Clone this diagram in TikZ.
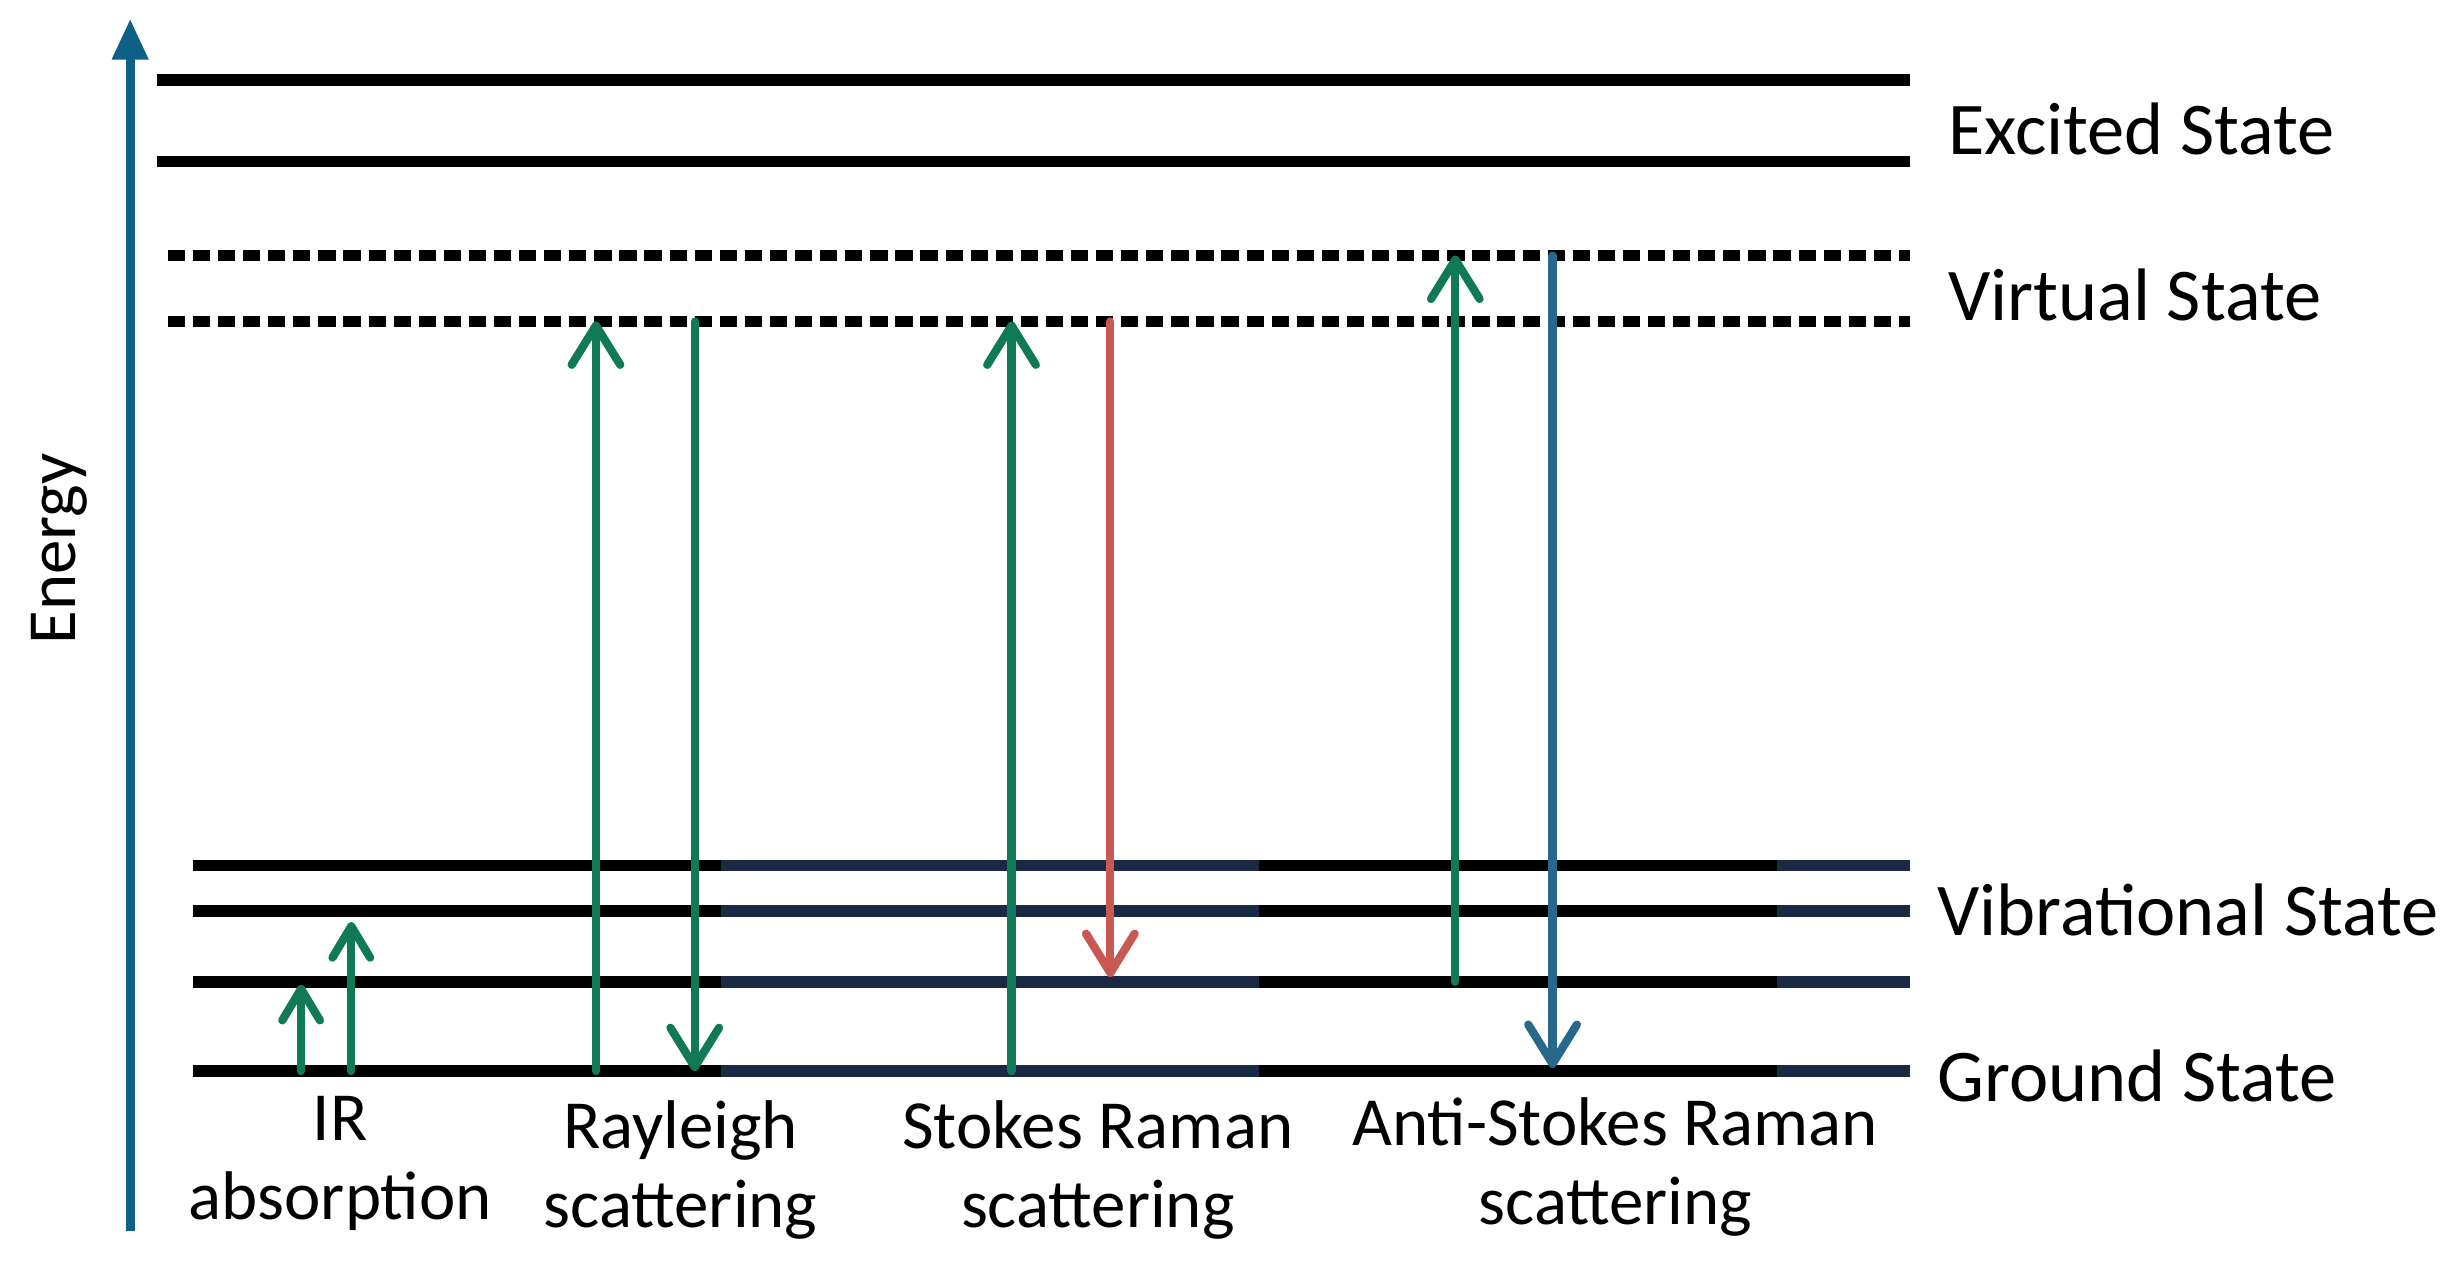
\documentclass[tikz,border=0pt]{standalone}
\usepackage{fontspec}
\setmainfont{Carlito}
\usetikzlibrary{arrows.meta, positioning}

\definecolor{jumpgreen}{RGB}{16,122,86}
\definecolor{stokesred}{RGB}{200,88,82}
\definecolor{antiblue}{RGB}{40,104,138}
\definecolor{axisblue}{RGB}{14,96,134}
\definecolor{levelnavy}{RGB}{27,42,68}

\begin{document}
\begin{tikzpicture}[x=0.02cm, y=-0.02cm,
    level/.style={line width=4.2pt, black},
    virtual/.style={level, dash pattern=on 0.22cm off 0.1cm},
    navyseg/.style={line width=4.2pt, levelnavy},
    jump/.style={line width=3pt, line cap=round,
        -{Straight Barb[length=0.5cm, width=0.62cm, line cap=round, line join=round]}},
    smalljump/.style={jump,
        -{Straight Barb[length=0.4cm, width=0.48cm, line cap=round, line join=round]}},
    statelbl/.style={anchor=west, inner sep=0pt, font=\fontsize{27}{32}\selectfont},
    proclbl/.style={align=center, inner sep=0pt, font=\fontsize{25}{28.5}\selectfont}]

    \useasboundingbox (0,0) rectangle (1568,813);

    % energy axis
    \coordinate (axb) at (83,785);
    \coordinate (axt) at (83,12);
    \draw[axisblue, line width=3.2pt, -{Triangle[length=0.52cm, width=0.44cm]}] (axb) -- (axt);
    \node[rotate=90, inner sep=0pt, font=\fontsize{25}{30}\selectfont] (energy) at (38,350) {Energy};

    % levels
    \foreach \name/\y/\xl in {ex2/51/100, ex1/103/100} {
        \coordinate (\name-l) at (\xl,\y);
        \coordinate (\name-r) at (1218,\y);
        \draw[level] (\name-l) -- (\name-r);
    }
    \foreach \name/\y/\xl in {vs2/163/107, vs1/205/107} {
        \coordinate (\name-l) at (\xl,\y);
        \coordinate (\name-r) at (1218,\y);
        \draw[virtual] (\name-l) -- (\name-r);
    }
    \coordinate (nava) at (460,0);
    \coordinate (navb) at (803,0);
    \coordinate (navc) at (1133,0);
    \foreach \name/\y/\xl in {v3/552/123, v2/581/123, v1/626/123, g0/683/123} {
        \coordinate (\name-l) at (\xl,\y);
        \coordinate (\name-r) at (1218,\y);
        \draw[level] (\name-l) -- (\name-r);
        \draw[navyseg] (nava |- \name-l) -- (navb |- \name-l);
        \draw[navyseg] (navc |- \name-l) -- (\name-r);
    }

    % transitions
    \coordinate (ir1) at (192,0);
    \coordinate (ir2) at (224,0);
    \coordinate (ray1) at (380,0);
    \coordinate (ray2) at (443,0);
    \coordinate (sto1) at (645,0);
    \coordinate (sto2) at (708,0);
    \coordinate (ant1) at (928,0);
    \coordinate (ant2) at (990,0);

    \draw[smalljump, jumpgreen] (ir1 |- g0-l) -- ([yshift=-0.04cm]ir1 |- v1-l);
    \draw[smalljump, jumpgreen] (ir2 |- g0-l) -- ([yshift=-0.14cm]ir2 |- v2-l);
    \draw[jump, jumpgreen] (ray1 |- g0-l) -- (ray1 |- vs1-l);
    \draw[jump, jumpgreen] (ray2 |- vs1-l) -- (ray2 |- g0-l);
    \draw[jump, jumpgreen] (sto1 |- g0-l) -- (sto1 |- vs1-l);
    \draw[jump, stokesred] (sto2 |- vs1-l) -- ([yshift=0.06cm]sto2 |- v1-l);
    \draw[jump, jumpgreen] (ant1 |- v1-l) -- (ant1 |- vs2-l);
    \draw[jump, antiblue] (ant2 |- vs2-l) -- ([yshift=0.04cm]ant2 |- g0-l);

    % state labels
    \node[statelbl] (exlbl) at (1242,82) {Excited State};
    \node[statelbl] (vslbl) at (1242,188) {Virtual State};
    \node[statelbl] (vblbl) at (1235,580) {Vibrational State};
    \node[statelbl] (gslbl) at (1235,686) {Ground State};

    % process labels
    \node[proclbl] (irlbl) at (217,742) {IR\\absorption};
    \node[proclbl] (raylbl) at (434,746) {Rayleigh\\scattering};
    \node[proclbl] (stolbl) at (700,746) {Stokes Raman\\scattering};
    \node[proclbl] (antlbl) at (1030,744) {Anti-Stokes Raman\\scattering};
\end{tikzpicture}
\end{document}
